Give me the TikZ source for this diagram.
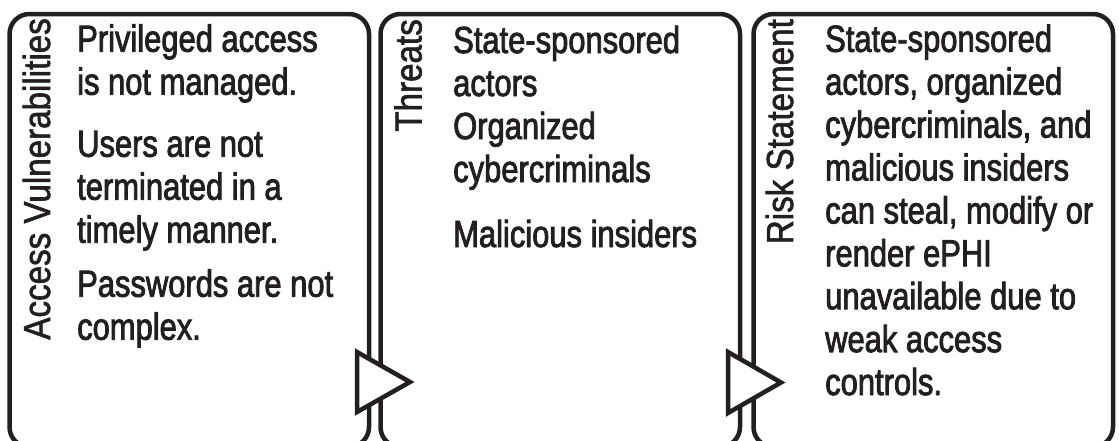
\documentclass[tikz,border=0pt]{standalone}
\usepackage{fontspec}
\setmainfont{Liberation Sans}[FakeStretch=0.82,FakeBold=2.2]
\newfontfamily\labelfont{Liberation Sans}[FakeStretch=0.88,FakeBold=1.6]
\usetikzlibrary{positioning}
\definecolor{ink}{RGB}{35,31,32}

\tikzset{
  panel/.style={draw=ink, line width=4.5pt, rounded corners=20pt,
    minimum width=359.5pt, minimum height=433pt, outer sep=0pt, inner sep=0pt},
  tri/.style={draw=ink, fill=white, line width=4.5pt, line join=miter},
  body/.style={text=ink, inner sep=0pt, anchor=base west, align=left,
    font=\fontsize{37.7}{43}\selectfont},
  side/.style={text=ink, inner sep=0pt, anchor=base east, rotate=90,
    font=\labelfont\fontsize{37.7}{43}\selectfont},
}

\begin{document}
\begin{tikzpicture}[x=1pt,y=1pt]
		\useasboundingbox (0,0) rectangle (1119,-440);
		% Felder
		\node[panel] (vuln) at (189.25,-230.5) {};
		\node[panel, right=11.5pt of vuln] (threat) {};
		\node[panel, right=13.5pt of threat] (risk) {};
		
		% Pfeile
		\coordinate (a1) at ([xshift=-12pt,yshift=-121.5pt]vuln.east);
		\coordinate (a2) at ([xshift=-12pt,yshift=-121.5pt]threat.east);
		\draw[tri] (a1) -- ++(0,-60) -- ++(53,30) -- cycle;
		\draw[tri] (a2) -- ++(0,-61) -- ++(53,30.5) -- cycle;
		
		% Titel
		\node[side] (tv) at (50,-18) {Access Vulnerabilities};
		\node[side] (tt) at (421.5,-19) {Threats};
		\node[side] (tr) at (793,-19) {Risk Statement};
		
		% Text (Anker: Grundlinie der letzten Zeile)
		\node[body] (v1) at (77,-94.7) {Privileged access\\is not managed.};
		\node[body] (v2) at (77,-242.7) {Users are not\\terminated in a\\timely manner.};
		\node[body] (v3) at (77,-339.7) {Passwords are not\\complex.};
		\node[body] (t1) at (453,-182) {State-sponsored\\actors\\Organized\\cybercriminals};
		\node[body] (t2) at (453,-247) {Malicious insiders};
		\node[body, font=\fontsize{37.7}{42.9}\selectfont] (r1) at (825,-395) {State-sponsored\\actors, organized\\cybercriminals, and\\malicious insiders\\can steal, modify or\\render ePHI\\unavailable due to\\weak access\\controls.};
	\end{tikzpicture}
\end{document}
